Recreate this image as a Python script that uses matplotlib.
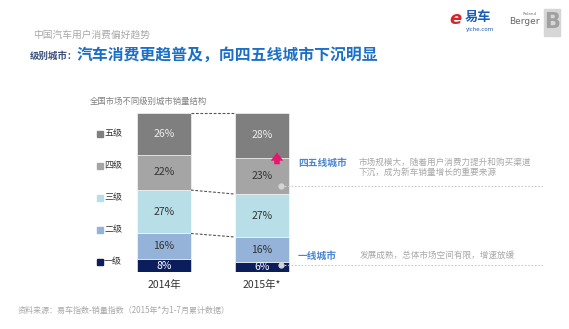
import matplotlib
matplotlib.use("Agg")
import matplotlib.pyplot as plt
from matplotlib.patches import Rectangle
import numpy as np

plt.rcParams['font.family'] = ['Noto Sans CJK SC', 'DejaVu Sans']

# data
years = ['2014年', '2015年*']
levels = ['一级', '二级', '三级', '四级', '五级']
share_2014 = [8, 16, 27, 22, 26]
share_2015 = [6, 16, 27, 23, 28]
colors = ['#0c1d5b', '#95b2d8', '#b8dfe8', '#a5a5a5', '#7f7f7f']
text_colors = ['white', '#333333', '#333333', '#333333', '#eeeeee']

W, H = 569, 329
fig = plt.figure(figsize=(W / 100, H / 100), dpi=100)

def fx(px):
    return px / W

def fy(py):
    return 1 - py / H

# axes for the bars: x -0.5..1.5 -> px 115..311, y 0..100 -> px 272..113
ax = fig.add_axes([fx(115), fy(272), fx(196), (272 - 113) / H])
ax.set_xlim(-0.5, 1.5)
ax.set_ylim(0, 100)
ax.axis('off')

data = np.array([share_2014, share_2015], dtype=float)
heights = data / data.sum(axis=1, keepdims=True) * 100
bw = 0.55
x = np.arange(len(years))
bottoms = np.zeros(len(years))
for i in range(len(levels)):
    ax.bar(x, heights[:, i], bw, bottom=bottoms, color=colors[i], edgecolor='white', linewidth=0.4)
    for j in range(len(years)):
        ax.text(x[j], bottoms[j] + heights[j, i] / 2, '%d%%' % data[j, i],
                ha='center', va='center', fontsize=7.5, color=text_colors[i])
    bottoms += heights[:, i]

# dashed connectors between the bars
cum = np.cumsum(heights, axis=1)
for k in [1, 2, 4]:
    ax.plot([x[0] + bw / 2, x[1] - bw / 2], [cum[0, k], cum[1, k]],
            ls=(0, (2.5, 1.5)), color='#555555', lw=0.8, clip_on=False)

# pink arrow
ax.annotate('', xy=(1.153, 77), xytext=(1.153, 66),
            arrowprops=dict(arrowstyle='simple,head_width=0.9,head_length=0.6,tail_width=0.4',
                            color='#e5176e', lw=0))

for j, yr in enumerate(years):
    ax.text(x[j], -8, yr, ha='center', va='center', fontsize=7.5, color='#333333')

# legend
for i, lv in enumerate(levels):
    py = 262 - i * 32
    fig.add_artist(Rectangle((fx(97), fy(py + 3)), 6 / W, 6 / H, color=colors[i],
                             transform=fig.transFigure))
    fig.text(fx(104), fy(py), lv, fontsize=6.5, color='#333333', va='center')

# titles
fig.text(fx(33), fy(35), '中国汽车用户消费偏好趋势', fontsize=7, color='#a8a8a8', va='center')
fig.text(fx(30), fy(56), '级别城市：', fontsize=6.8, color='#3a4f7a', fontweight='bold', va='center')
fig.text(fx(77), fy(55), '汽车消费更趋普及，向四五线城市下沉明显', fontsize=11.4,
         color='#1c6fc6', fontweight='bold', va='center')
fig.text(fx(90), fy(101), '全国市场不同级别城市销量结构', fontsize=6, color='#808080', va='center')

# right side notes
fig.text(fx(298), fy(163), '四五线城市', fontsize=7, color='#4a86d0', fontweight='bold', va='center')
fig.text(fx(359), fy(162), '市场规模大，随着用户消费力提升和购买渠道', fontsize=6.2,
         color='#a8a8a8', va='center')
fig.text(fx(359), fy(172), '下沉，成为新车销量增长的重要来源', fontsize=6.2,
         color='#a8a8a8', va='center')
fig.text(fx(298), fy(256), '一线城市', fontsize=7, color='#4a86d0', fontweight='bold', va='center')
fig.text(fx(360), fy(255), '发展成熟，总体市场空间有限，增速放缓', fontsize=6.2,
         color='#a8a8a8', va='center')
for py in [186, 265]:
    fig.add_artist(plt.Line2D([fx(281), fx(543)], [fy(py), fy(py)], ls=(0, (1.5, 1.5)),
                              color='#cccccc', lw=0.8, transform=fig.transFigure))
    fig.add_artist(plt.Line2D([fx(281)], [fy(py)], marker='o', ms=3.5, color='#d4d4d4',
                              transform=fig.transFigure))

# footer
fig.text(fx(18), fy(310), '资料来源：易车指数-销量指数（2015年*为1-7月累计数据）', fontsize=5.8,
         color='#a8a8a8', va='center')

# logos
fig.text(fx(455), fy(19), 'e', fontsize=13, color='#d8232a', fontweight='bold',
         style='italic', family='DejaVu Sans', va='center', ha='center')
fig.text(fx(465), fy(17), '易车', fontsize=9.5, color='#1a5cb5', fontweight='bold', va='center')
fig.text(fx(466), fy(29), 'yiche.com', fontsize=4, color='#1a5cb5', va='center', family='DejaVu Sans')
fig.text(fx(537), fy(14), 'Roland', fontsize=3, color='#777777', va='center', ha='right', family='DejaVu Sans')
fig.text(fx(540), fy(22), 'Berger', fontsize=6.5, color='#666666', va='center', ha='right', family='DejaVu Sans')
fig.add_artist(Rectangle((fx(544), fy(36)), 16 / W, 27 / H, color='#d6d6d6',
                         transform=fig.transFigure))
fig.text(fx(552), fy(22), 'B', fontsize=15, color='#a0a0a0', fontweight='bold', va='center',
         ha='center', family='DejaVu Sans')

fig.savefig('out.png', dpi=100)
